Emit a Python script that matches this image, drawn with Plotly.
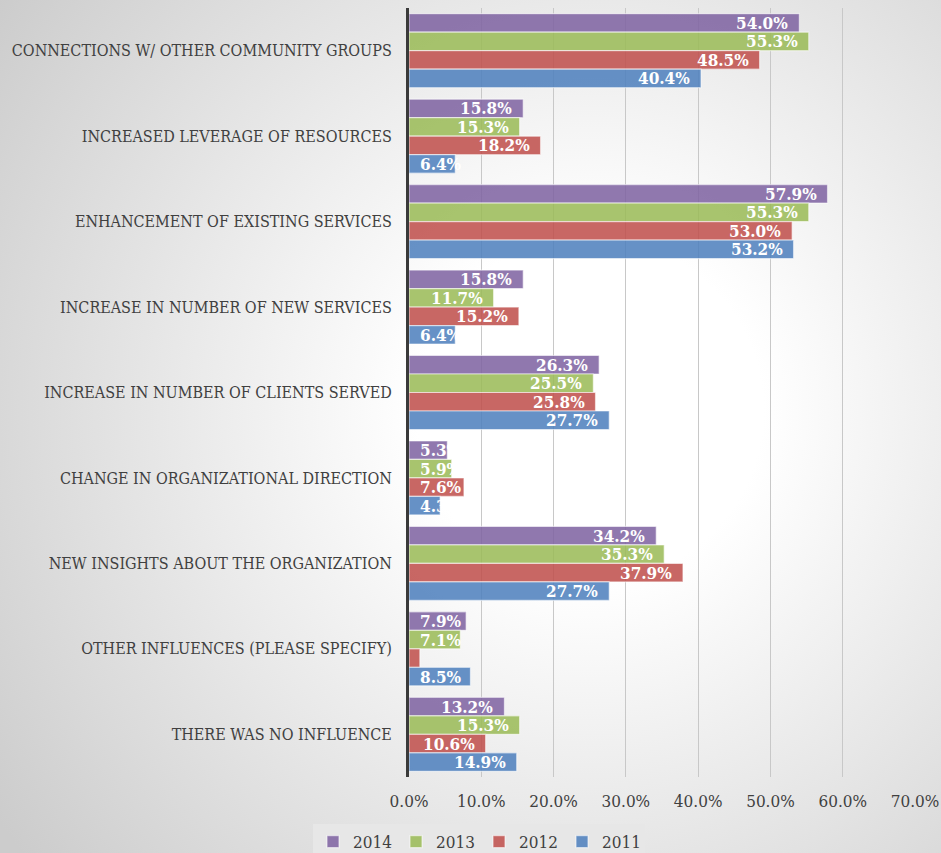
import base64
import plotly.graph_objects as go

# Survey categories (top to bottom) and share of respondents per year, in percent
categories = [
    "CONNECTIONS W/ OTHER COMMUNITY GROUPS",
    "INCREASED LEVERAGE OF RESOURCES",
    "ENHANCEMENT OF EXISTING SERVICES",
    "INCREASE IN NUMBER OF NEW SERVICES",
    "INCREASE IN NUMBER OF CLIENTS SERVED",
    "CHANGE IN ORGANIZATIONAL DIRECTION",
    "NEW INSIGHTS ABOUT THE ORGANIZATION",
    "OTHER INFLUENCES (PLEASE SPECIFY)",
    "THERE WAS NO INFLUENCE",
]
years = ["2014", "2013", "2012", "2011"]
values_2014 = [54.0, 15.8, 57.9, 15.8, 26.3, 5.3, 34.2, 7.9, 13.2]
values_2013 = [55.3, 15.3, 55.3, 11.7, 25.5, 5.9, 35.3, 7.1, 15.3]
values_2012 = [48.5, 18.2, 53.0, 15.2, 25.8, 7.6, 37.9, 1.5, 10.6]
values_2011 = [40.4, 6.4, 53.2, 6.4, 27.7, 4.3, 27.7, 8.5, 14.9]
series = [values_2014, values_2013, values_2012, values_2011]

x_ticks = [0, 10, 20, 30, 40, 50, 60, 70]
x_tick_text = [f"{v:.1f}%" for v in x_ticks]

colors = ["rgba(128,100,162,0.87)", "rgba(155,187,89,0.87)",
          "rgba(192,80,77,0.87)", "rgba(79,129,189,0.87)"]

W, H = 941, 853
ML, MR, MT, MB = 409, 26, 8, 76
SERIF = "DejaVu Serif Condensed, DejaVu Serif, serif"
LABEL_FONT = dict(family=SERIF, size=17, color="white", weight="bold")
GROUP = 0.866                 # share of a category slot filled by its bars
BAR_W = GROUP / len(years)
SHORT_LIMIT = 9.5             # labels of shorter bars start at the bar base
MIN_LABEL = 2.0               # tiny bars carry no label

fig = go.Figure()
annotations = []

for k, (name, vals, col) in enumerate(zip(years, series, colors)):
    offset = -GROUP / 2 + k * BAR_W
    fig.add_trace(go.Bar(
        name=name, y=categories, x=vals, orientation="h",
        width=BAR_W, offset=offset,
        marker=dict(color=col, line=dict(color="rgba(255,255,255,0.55)", width=1.2)),
        hoverinfo="skip",
    ))
    # value labels: inside the bar end, or from the base for short bars
    for i, v in enumerate(vals):
        if v < MIN_LABEL:
            continue
        short = v < SHORT_LIMIT
        annotations.append(dict(
            x=0 if short else v, y=i + offset + BAR_W / 2,
            xref="x", yref="y", text=f"{v:.1f}%", showarrow=False,
            xanchor="left" if short else "right", yanchor="middle",
            xshift=11 if short else -11, borderpad=0, borderwidth=0,
            font=LABEL_FONT,
        ))

# soft radial backdrop behind the whole figure
svg = f"""<svg xmlns="http://www.w3.org/2000/svg" width="{W}" height="{H}" viewBox="0 0 {W} {H}" preserveAspectRatio="none">
<defs><radialGradient id="g" gradientUnits="userSpaceOnUse" cx="590" cy="410" r="720">
<stop offset="0" stop-color="#ffffff"/><stop offset="0.24" stop-color="#ffffff"/>
<stop offset="1" stop-color="#cccccc"/></radialGradient></defs>
<rect x="0" y="0" width="{W}" height="{H}" fill="url(#g)"/></svg>"""
src = "data:image/svg+xml;base64," + base64.b64encode(svg.encode()).decode()
pw, ph = W - ML - MR, H - MT - MB

fig.update_layout(
    width=W, height=H,
    margin=dict(l=ML, r=MR, t=MT, b=MB, pad=0, autoexpand=False),
    barmode="overlay",
    paper_bgcolor="#dddddd", plot_bgcolor="rgba(0,0,0,0)",
    font=dict(family=SERIF, color="#404040"),
    annotations=annotations,
    images=[dict(source=src, xref="paper", yref="paper",
                 x=-ML / pw, y=1 + MT / ph, sizex=W / pw, sizey=H / ph,
                 xanchor="left", yanchor="top", sizing="stretch", layer="below")],
    xaxis=dict(range=[0, 70], tickvals=x_ticks, ticktext=x_tick_text,
               showgrid=True, gridcolor="#c8c8c8", gridwidth=1, zeroline=False,
               showline=False, ticks="", tickfont=dict(family=SERIF, size=17, color="#404040"),
               ticklabelstandoff=12, fixedrange=True),
    yaxis=dict(autorange="reversed", showline=True, linecolor="#3a3a3a", linewidth=3,
               ticks="", showgrid=False, tickfont=dict(family=SERIF, size=16, color="#404040"),
               ticklabelstandoff=11, fixedrange=True),
    legend=dict(orientation="h", x=(479 - ML) / pw, xanchor="center",
                y=-(824 - (H - MB)) / ph, yanchor="top",
                bgcolor="#e7e7e7", font=dict(family=SERIF, size=17, color="#404040"),
                traceorder="normal", entrywidth=38, entrywidthmode="pixels"),
)

fig.write_html("out.html")
